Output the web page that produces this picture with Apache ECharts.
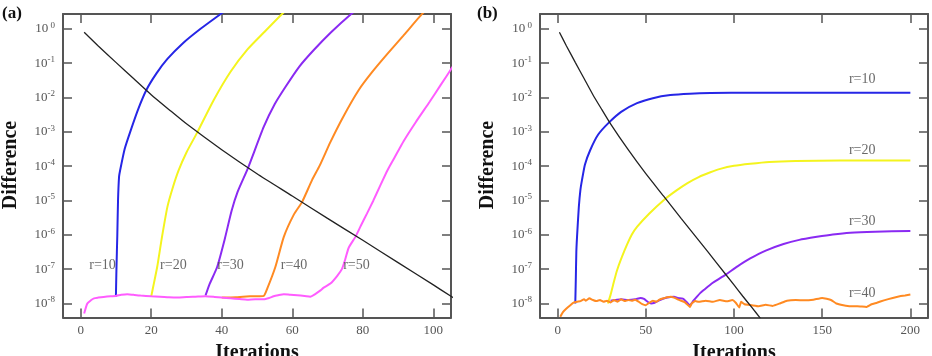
<!DOCTYPE html>
<html><head><meta charset="utf-8">
<script src="https://cdn.jsdelivr.net/npm/echarts@6/dist/echarts.min.js"></script>
<style>html,body{margin:0;padding:0;background:#fff}#c{width:932px;height:356px}</style>
</head><body><div id="c"></div>
<script>
// ---------- data (iteration, difference) ----------
const blackCurve = [[1,0.794],[5,0.316],[10,0.105],[15,3.55e-2],[20,1.2e-2],[25,4.47e-3],[30,1.7e-3],[40,3.0e-4],[50,6.0e-5],[60,1.35e-5],[70,3.0e-6],[80,6.9e-7],[90,1.55e-7],[100,3.47e-8],[105,1.62e-8],[110,7.8e-9],[115,3.7e-9]];

// panel (a)
const blueA = [[10,1.58e-8],[10.15,1e-7],[10.4,1e-6],[10.6,1e-5],[10.9,5e-5],[11.2,7.6e-5],[12.5,3.2e-4],[14.2,1.1e-3],[16.3,4.5e-3],[18.6,1.62e-2],[21.5,5.0e-2],[24.6,0.132],[29,0.38],[34,1.0],[39.7,2.7],[42,4.0]];
const yellowA = [[20,1.58e-8],[20.6,3.16e-8],[21.7,1.15e-7],[23,7.9e-7],[24.6,6.5e-6],[26.2,2.5e-5],[27.8,7.6e-5],[30,2.5e-4],[33,9.3e-4],[37.7,8.3e-3],[42.5,5.6e-2],[47.3,0.25],[52,0.79],[57.1,2.7],[59,4.0]];
const purpleA = [[35.4,1.7e-8],[36.5,3.55e-8],[38.7,1.15e-7],[40.8,7.1e-7],[42.8,5.0e-6],[44.5,1.78e-5],[47.5,9.1e-5],[51.9,1.38e-3],[55,6.3e-3],[58.1,2.04e-2],[62,7.9e-2],[66.1,0.24],[71,0.79],[76.7,2.7],[79,4.0]];
const orangeA = [[40,1.48e-8],[44,1.51e-8],[46,1.58e-8],[48,1.62e-8],[50,1.62e-8],[51.9,1.66e-8],[52.9,2.7e-8],[55.2,1.15e-7],[57.6,8.7e-7],[60.4,3.8e-6],[62.8,9.1e-6],[65.6,3.9e-5],[67.8,1.05e-4],[70.8,5.0e-4],[74.5,2.8e-3],[78.8,1.62e-2],[82.5,5.25e-2],[86.9,0.182],[91.5,0.63],[96.8,2.7],[99,4.5]];
const magentaA = [[1,5.1e-9],[1.9,1.0e-8],[3,1.26e-8],[3.8,1.41e-8],[5,1.48e-8],[6.5,1.55e-8],[8.5,1.62e-8],[10,1.66e-8],[11.5,1.78e-8],[13.2,1.86e-8],[15,1.78e-8],[17,1.7e-8],[20,1.62e-8],[22.5,1.58e-8],[25,1.51e-8],[27.5,1.48e-8],[30,1.55e-8],[32.5,1.58e-8],[35.4,1.62e-8],[38,1.55e-8],[40,1.48e-8],[42.5,1.41e-8],[45,1.35e-8],[47.2,1.29e-8],[49.5,1.32e-8],[51.9,1.32e-8],[53.5,1.45e-8],[54.7,1.62e-8],[56,1.74e-8],[57.6,1.86e-8],[59.5,1.78e-8],[61.4,1.74e-8],[63.5,1.66e-8],[65.1,1.58e-8],[66.6,1.91e-8],[68,2.4e-8],[68.9,2.9e-8],[70.8,3.8e-8],[72.7,6.3e-8],[74.1,1.02e-7],[75,1.9e-7],[76,4.2e-7],[77.9,8.7e-7],[79.5,1.9e-6],[81.2,4.2e-6],[83,1.0e-5],[85,2.8e-5],[87,7.6e-5],[89,1.78e-4],[91.6,5.4e-4],[95,1.9e-3],[99,7.6e-3],[102,2.24e-2],[105.5,7.9e-2]];
const labelsA = ['r=10','r=20','r=30','r=40','r=50'];
const labelXA = [6.2, 26.3, 42.5, 60.5, 78.2];
const labelYA = [1.3e-7, 1.3e-7, 1.3e-7, 1.3e-7, 1.3e-7];

// panel (b)
const blueB = [[10,1.0e-8],[10.3,5.0e-8],[10.6,3.16e-7],[11,8.7e-7],[12,6.3e-6],[12.9,2.0e-5],[13.8,3.9e-5],[15.5,1.12e-4],[18.5,2.95e-4],[23,8.3e-4],[28.9,1.82e-3],[36,3.8e-3],[45,6.8e-3],[54,9.5e-3],[63.9,1.17e-2],[75,1.29e-2],[86.6,1.35e-2],[110,1.38e-2],[150,1.38e-2],[200,1.38e-2]];
const yellowB = [[28.5,1.0e-8],[30,1.78e-8],[31.5,3.55e-8],[33.7,9.3e-8],[38,3.55e-7],[42,1.0e-6],[45,1.7e-6],[52,4.17e-6],[60.1,1.02e-5],[67,1.9e-5],[73.4,3.16e-5],[80,4.8e-5],[86.6,6.6e-5],[92.2,8.3e-5],[100,1.02e-4],[109.2,1.17e-4],[120,1.32e-4],[135,1.41e-4],[160,1.45e-4],[200,1.45e-4]];
const purpleB = [[30,1.2e-8],[33,1.26e-8],[36,1.32e-8],[40,1.26e-8],[44,1.32e-8],[47,1.45e-8],[49,1.35e-8],[51,1.12e-8],[53,1.0e-8],[55,1.05e-8],[58,1.26e-8],[61,1.45e-8],[64,1.55e-8],[66,1.58e-8],[68,1.45e-8],[71,1.38e-8],[73,1.12e-8],[75,8.9e-9],[77,1.2e-8],[79,1.58e-8],[80.8,2.0e-8],[83,2.5e-8],[88,4.0e-8],[95.1,6.8e-8],[102,1.2e-7],[109.2,2.04e-7],[118,3.47e-7],[128.1,5.4e-7],[137,7.1e-7],[147,8.7e-7],[156,1.02e-6],[165.9,1.15e-6],[180,1.23e-6],[200,1.29e-6]];
const orangeB = [[1.5,4.1e-9],[3,5.6e-9],[5,7.1e-9],[7.2,8.9e-9],[9,1.05e-8],[11,1.12e-8],[13,1.17e-8],[15,1.32e-8],[16,1.2e-8],[18,1.41e-8],[20,1.26e-8],[22,1.17e-8],[24,1.26e-8],[26,1.12e-8],[28,1.2e-8],[30,1.07e-8],[32,1.26e-8],[34,1.12e-8],[36,1.32e-8],[38,1.17e-8],[40,1.26e-8],[42,1.2e-8],[44,1.29e-8],[46,1.12e-8],[48,9.5e-9],[50,8.9e-9],[52,1.05e-8],[54,1.2e-8],[56,1.12e-8],[58,1.32e-8],[60,1.41e-8],[62,1.51e-8],[64,1.58e-8],[66,1.48e-8],[68,1.32e-8],[70,1.2e-8],[72,1.1e-8],[74,8.9e-9],[75,7.9e-9],[76,1.0e-8],[78,1.17e-8],[80,1.12e-8],[84,1.2e-8],[88,1.12e-8],[92,1.26e-8],[96,1.15e-8],[99,1.26e-8],[101,1.05e-8],[103,7.6e-9],[104,1.12e-8],[106,9.5e-9],[110,8.9e-9],[114,8.3e-9],[118,9.1e-9],[122,8.5e-9],[126,1.0e-8],[130,1.2e-8],[135,1.26e-8],[140,1.23e-8],[145,1.29e-8],[150,1.45e-8],[155,1.26e-8],[158,1.0e-8],[162,8.9e-9],[166,8.3e-9],[170,8.3e-9],[175,7.9e-9],[178,9.5e-9],[181,1.05e-8],[185,1.23e-8],[190,1.45e-8],[194,1.62e-8],[197,1.7e-8],[200,1.82e-8]];
const labelsB = ['r=10','r=20','r=30','r=40'];
const labelXB = [172.7, 172.7, 172.7, 172.7];
const labelYB = [3.4e-2, 2.95e-4, 2.4e-6, 1.95e-8];

const xTicksA = [0, 20, 40, 60, 80, 100];
const xTicksB = [0, 50, 100, 150, 200];
const yExponents = [0, -1, -2, -3, -4, -5, -6, -7, -8];

// ---------- styling ----------
const SERIF = '"Liberation Serif", "Times New Roman", serif';
const AX = '#555';
const COL = {black:'#222', blue:'#2626e6', yellow:'#f4f41e', purple:'#8a2af2', orange:'#ff8a22', magenta:'#ff5cff'};

function yFmt(v){
  const e = Math.round(Math.log10(v));
  if (yExponents.indexOf(e) < 0 || Math.abs(Math.log10(v) - e) > 1e-6) return '';
  return '{b|10}{s|' + (e === 0 ? ' 0' : String(e)) + '}';
}
function axisLineStyle(){ return {show:true, onZero:false, lineStyle:{color:AX, width:2}}; }
function tickStyle(){ return {show:true, inside:true, length:9, lineStyle:{color:AX, width:1.5}}; }

function xAxes(gi, min, max, ticks){
  return [
    {type:'value', gridIndex:gi, min:min, max:max, position:'bottom',
     axisLine:axisLineStyle(), axisTick:tickStyle(), splitLine:{show:false},
     axisLabel:{showMinLabel:false, showMaxLabel:false, margin:7, fontFamily:SERIF, fontSize:13, color:'#555',
       formatter:function(v){ return ticks.indexOf(v) >= 0 ? String(v) : ''; }}},
    {type:'value', gridIndex:gi, min:min, max:max, position:'top',
     axisLine:axisLineStyle(), axisTick:tickStyle(), splitLine:{show:false}, axisLabel:{show:false}}
  ];
}
function yAxes(gi){
  return [
    {type:'log', logBase:10, gridIndex:gi, min:3.9e-9, max:2.69, position:'left',
     axisLine:axisLineStyle(), axisTick:tickStyle(), splitLine:{show:false}, minorTick:{show:false},
     axisLabel:{showMinLabel:false, showMaxLabel:false, margin:8, formatter:yFmt,
       rich:{
         b:{fontFamily:SERIF, fontSize:13, color:'#555', lineHeight:16},
         s:{fontFamily:SERIF, fontSize:9, color:'#555', lineHeight:8, verticalAlign:'top'}
       }}},
    {type:'log', logBase:10, gridIndex:gi, min:3.9e-9, max:2.69, position:'right',
     axisLine:axisLineStyle(), axisTick:tickStyle(), splitLine:{show:false}, axisLabel:{show:false}}
  ];
}
function line(data, color, width, xi, yi, z, sm){
  return {type:'line', data:data, xAxisIndex:xi, yAxisIndex:yi, showSymbol:false, symbol:'none',
    smooth:sm, clip:true, silent:true, z:z,
    lineStyle:{color:color, width:width}};
}
function labels(names, xs, ys, xi, yi){
  return {type:'scatter', xAxisIndex:xi, yAxisIndex:yi, silent:true, symbolSize:1, z:10,
    itemStyle:{color:'rgba(0,0,0,0)'},
    data:names.map(function(n,i){ return [xs[i], ys[i], n]; }),
    label:{show:true, position:'inside', formatter:function(p){ return p.data[2]; },
      fontFamily:SERIF, fontSize:14, color:'#444'}};
}

const chart = echarts.init(document.getElementById('c'), null, {renderer:'canvas'});
chart.setOption({
  animation:false,
  backgroundColor:'#fff',
  grid:[
    {left:63, right:481, top:14, bottom:38.5},
    {left:540, right:4, top:14, bottom:38.5}
  ],
  xAxis: xAxes(0, -5, 105, xTicksA).concat(xAxes(1, -10, 210, xTicksB)),
  yAxis: yAxes(0).concat(yAxes(1)),
  series:[
    line(blueA, COL.blue, 2, 0, 0, 2, 0.2),
    line(yellowA, COL.yellow, 2, 0, 0, 2, 0.2),
    line(purpleA, COL.purple, 2, 0, 0, 2, 0.2),
    line(orangeA, COL.orange, 2, 0, 0, 2, 0.2),
    line(magentaA, COL.magenta, 2, 0, 0, 3, 0.2),
    line(blackCurve, COL.black, 1.3, 0, 0, 4, 0.2),
    labels(labelsA, labelXA, labelYA, 0, 0),
    line(blueB, COL.blue, 2, 2, 2, 2, 0.2),
    line(yellowB, COL.yellow, 2, 2, 2, 2, 0.2),
    line(purpleB, COL.purple, 2, 2, 2, 2, 0.2),
    line(orangeB, COL.orange, 2, 2, 2, 3, 0.1),
    line(blackCurve, COL.black, 1.3, 2, 2, 4, 0.2),
    labels(labelsB, labelXB, labelYB, 2, 2)
  ],
  graphic:[
    {type:'text', left:2, top:5, style:{text:'(a)', font:'bold 17px ' + SERIF, fill:'#111'}},
    {type:'text', left:477, top:5, style:{text:'(b)', font:'bold 17px ' + SERIF, fill:'#111'}},
    {type:'text', x:10.5, y:165, rotation:Math.PI/2, style:{text:'Difference', font:'bold 20px ' + SERIF, fill:'#111', align:'center', verticalAlign:'middle'}},
    {type:'text', x:487.5, y:165, rotation:Math.PI/2, style:{text:'Difference', font:'bold 20px ' + SERIF, fill:'#111', align:'center', verticalAlign:'middle'}},
    {type:'text', x:257, y:353, style:{text:'Iterations', font:'bold 20px ' + SERIF, fill:'#111', align:'center', verticalAlign:'middle'}},
    {type:'text', x:734, y:353, style:{text:'Iterations', font:'bold 20px ' + SERIF, fill:'#111', align:'center', verticalAlign:'middle'}}
  ]
});
</script></body></html>
